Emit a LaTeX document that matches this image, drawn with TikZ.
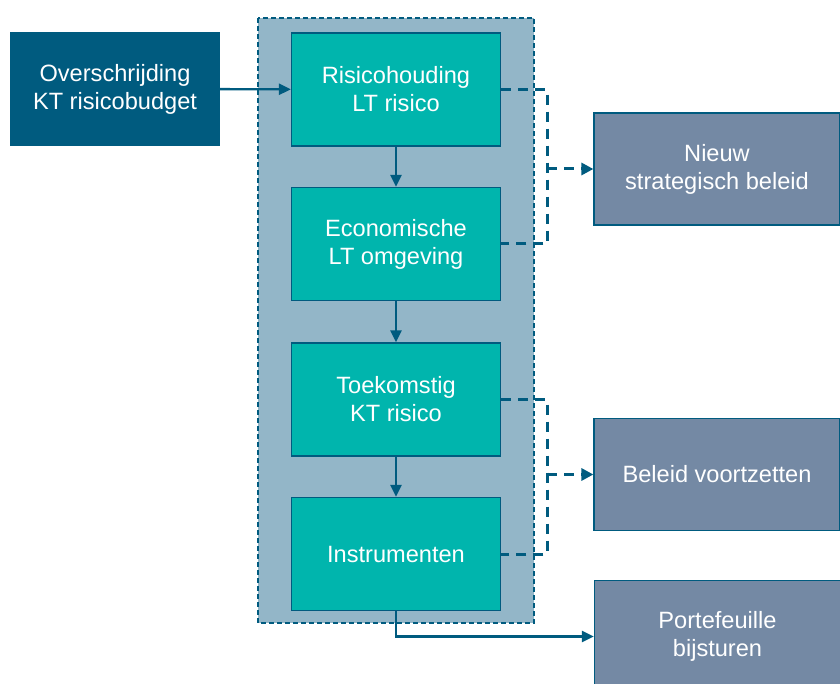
\documentclass[tikz,border=0pt]{standalone}
\usepackage{fontspec}
\setmainfont{Liberation Sans}
\usetikzlibrary{arrows.meta}
\definecolor{darkblue}{HTML}{005B7F}
\definecolor{teal}{HTML}{00B5AD}
\definecolor{panelblue}{HTML}{93B6C8}
\definecolor{slate}{HTML}{7489A4}
\tikzstyle{base}=[shape=rectangle,text=white,align=center,inner sep=0pt,font=\fontsize{23.6}{28}\selectfont]
\tikzstyle{trigger}=[base,fill=darkblue,minimum width=210pt,minimum height=114pt]
\tikzstyle{stepbox}=[base,draw=darkblue,line width=1.2pt,fill=teal,minimum width=209pt,minimum height=113pt]
\tikzstyle{outcome}=[base,draw=darkblue,line width=1.2pt,fill=slate,minimum width=246pt,minimum height=112pt]
\tikzstyle{flow}=[darkblue,line width=2.4pt,-{Triangle[length=12pt,width=11pt]}]
\tikzstyle{choice}=[darkblue,line width=3pt,dash pattern=on 10pt off 7pt]

\begin{document}
\begin{tikzpicture}[x=1pt,y=-1pt]
\useasboundingbox (0,0) rectangle (840,684);
% panel
\fill[panelblue] (258,18) rectangle (534,623);
\draw[darkblue,line width=1.5pt,dash pattern=on 5pt off 3pt] (258,18) rectangle (534,623);
% boxes
\node[trigger] (over) at (115,89) {Overschrijding\\KT risicobudget};
\node[stepbox] (risico) at (396,89.5) {Risicohouding\\LT risico};
\node[stepbox] (omgeving) at (396,244) {Economische\\LT omgeving};
\node[stepbox] (toekomst) at (396,399.5) {Toekomstig\\KT risico};
\node[stepbox] (instr) at (396,554) {Instrumenten};
\node[outcome] (nieuw) at (717,169) {Nieuw\\strategisch beleid};
\node[outcome] (voort) at (717,474.5) {Beleid voortzetten};
\node[outcome] (bijst) at (717.5,636.5) {Portefeuille\\bijsturen};
% solid arrows
\draw[flow] (over) -- (risico);
\draw[flow] (risico) -- (omgeving);
\draw[flow] (omgeving) -- (toekomst);
\draw[flow] (toekomst) -- (instr);
\draw[flow] (instr.south) |- (bijst.west);
% dashed brackets
\coordinate (b1) at (547,169);
\coordinate (b2) at (547,474.5);
\draw[choice] (risico.east) -| (b1) |- (omgeving.east);
\draw[choice,-{Triangle[length=12pt,width=12pt]}] (b1) -- (nieuw.west);
\draw[choice] (toekomst.east) -| (b2) |- (instr.east);
\draw[choice,-{Triangle[length=12pt,width=12pt]}] (b2) -- (voort.west);
\end{tikzpicture}
\end{document}
